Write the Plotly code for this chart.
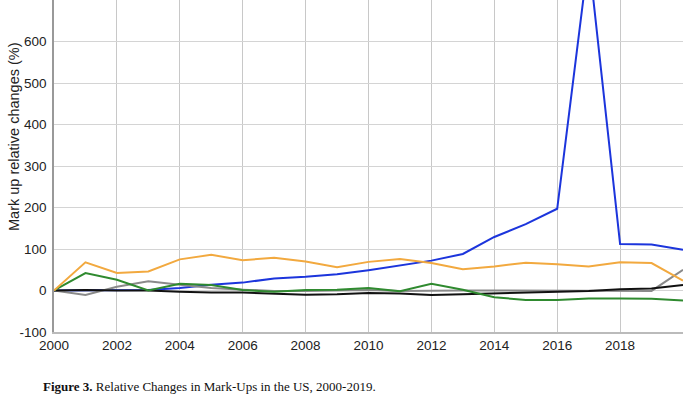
import plotly.graph_objects as go

years = list(range(2000, 2021))
blue = [0, 0, 0, 1, 6, 14, 19, 29, 33, 39, 49, 61, 72, 88, 129, 160, 197, 805, 112, 111, 98]
orange = [0, 68, 42, 46, 75, 86, 73, 79, 70, 56, 69, 76, 66, 51, 58, 67, 63, 58, 68, 66, 24]
green = [0, 42, 26, 0, 16, 13, 1, -3, 1, 2, 6, -2, 16, 2, -16, -23, -23, -19, -19, -20, -24]
gray = [0, -11, 9, 22, 14, 6, 2, -1, -1, 0, 1, -1, 0, 0, 0, 0, 0, -1, -1, -1, 50]
black = [0, 1, 0, 0, -3, -5, -5, -7, -10, -9, -6, -7, -11, -9, -7, -5, -2, -1, 3, 5, 13]

x_ticks = list(range(2000, 2019, 2))
y_ticks = list(range(-100, 701, 100))
y_title = "Mark up relative changes (%)"
caption_bold = "Figure 3."
caption_rest = " Relative Changes in Mark-Ups in the US, 2000-2019."

series = [
    ("blue", blue, "#1c35dc"),
    ("gray", gray, "#8a8a8a"),
    ("black", black, "#111111"),
    ("green", green, "#2f8a2f"),
    ("orange", orange, "#f2a93f"),
]

fig = go.Figure()
for name, vals, col in series:
    fig.add_trace(go.Scatter(x=years, y=vals, mode="lines", name=name,
                             line=dict(color=col, width=2), showlegend=False,
                             hoverinfo="skip"))

fig.update_layout(
    width=700, height=394,
    margin=dict(l=54, r=17, t=0, b=62),
    paper_bgcolor="white", plot_bgcolor="white",
    font=dict(family="Liberation Sans, Arial, sans-serif", size=13, color="#222222"),
    xaxis=dict(range=[2000, 2020], tickvals=x_ticks, ticktext=[str(v) for v in x_ticks],
               showgrid=True, gridcolor="#c8c8c8", gridwidth=1,
               showline=True, linecolor="#bbbbbb", linewidth=2,
               zeroline=False, ticks="", tickfont=dict(size=13.5, color="#222222")),
    yaxis=dict(range=[-100, 700], tickvals=y_ticks, ticktext=[str(v) for v in y_ticks],
               showgrid=True, gridcolor="#d4d4d4", gridwidth=1,
               showline=True, linecolor="#999999", linewidth=1.5,
               zeroline=False, ticks="", ticklabelstandoff=3,
               tickfont=dict(size=13.5, color="#222222")),
    annotations=[
        dict(text=y_title, xref="paper", yref="paper", x=-54/629 + 14/629, y=1 - 137/332,
             xanchor="center", yanchor="middle", textangle=-90, showarrow=False,
             font=dict(size=14.5, color="#222222", family="Liberation Sans, Arial, sans-serif")),
        dict(text="<b>" + caption_bold + "</b>" + caption_rest, xref="paper", yref="paper",
             x=-13/629, y=-(386 - 332)/332, xanchor="left", yanchor="middle", showarrow=False,
             font=dict(size=13, color="#111111", family="Liberation Serif, Times New Roman, serif")),
    ],
)

fig.write_html("out.html", config={"displayModeBar": False},
               post_script="document.body.style.margin='0';document.body.style.overflow='hidden';")
